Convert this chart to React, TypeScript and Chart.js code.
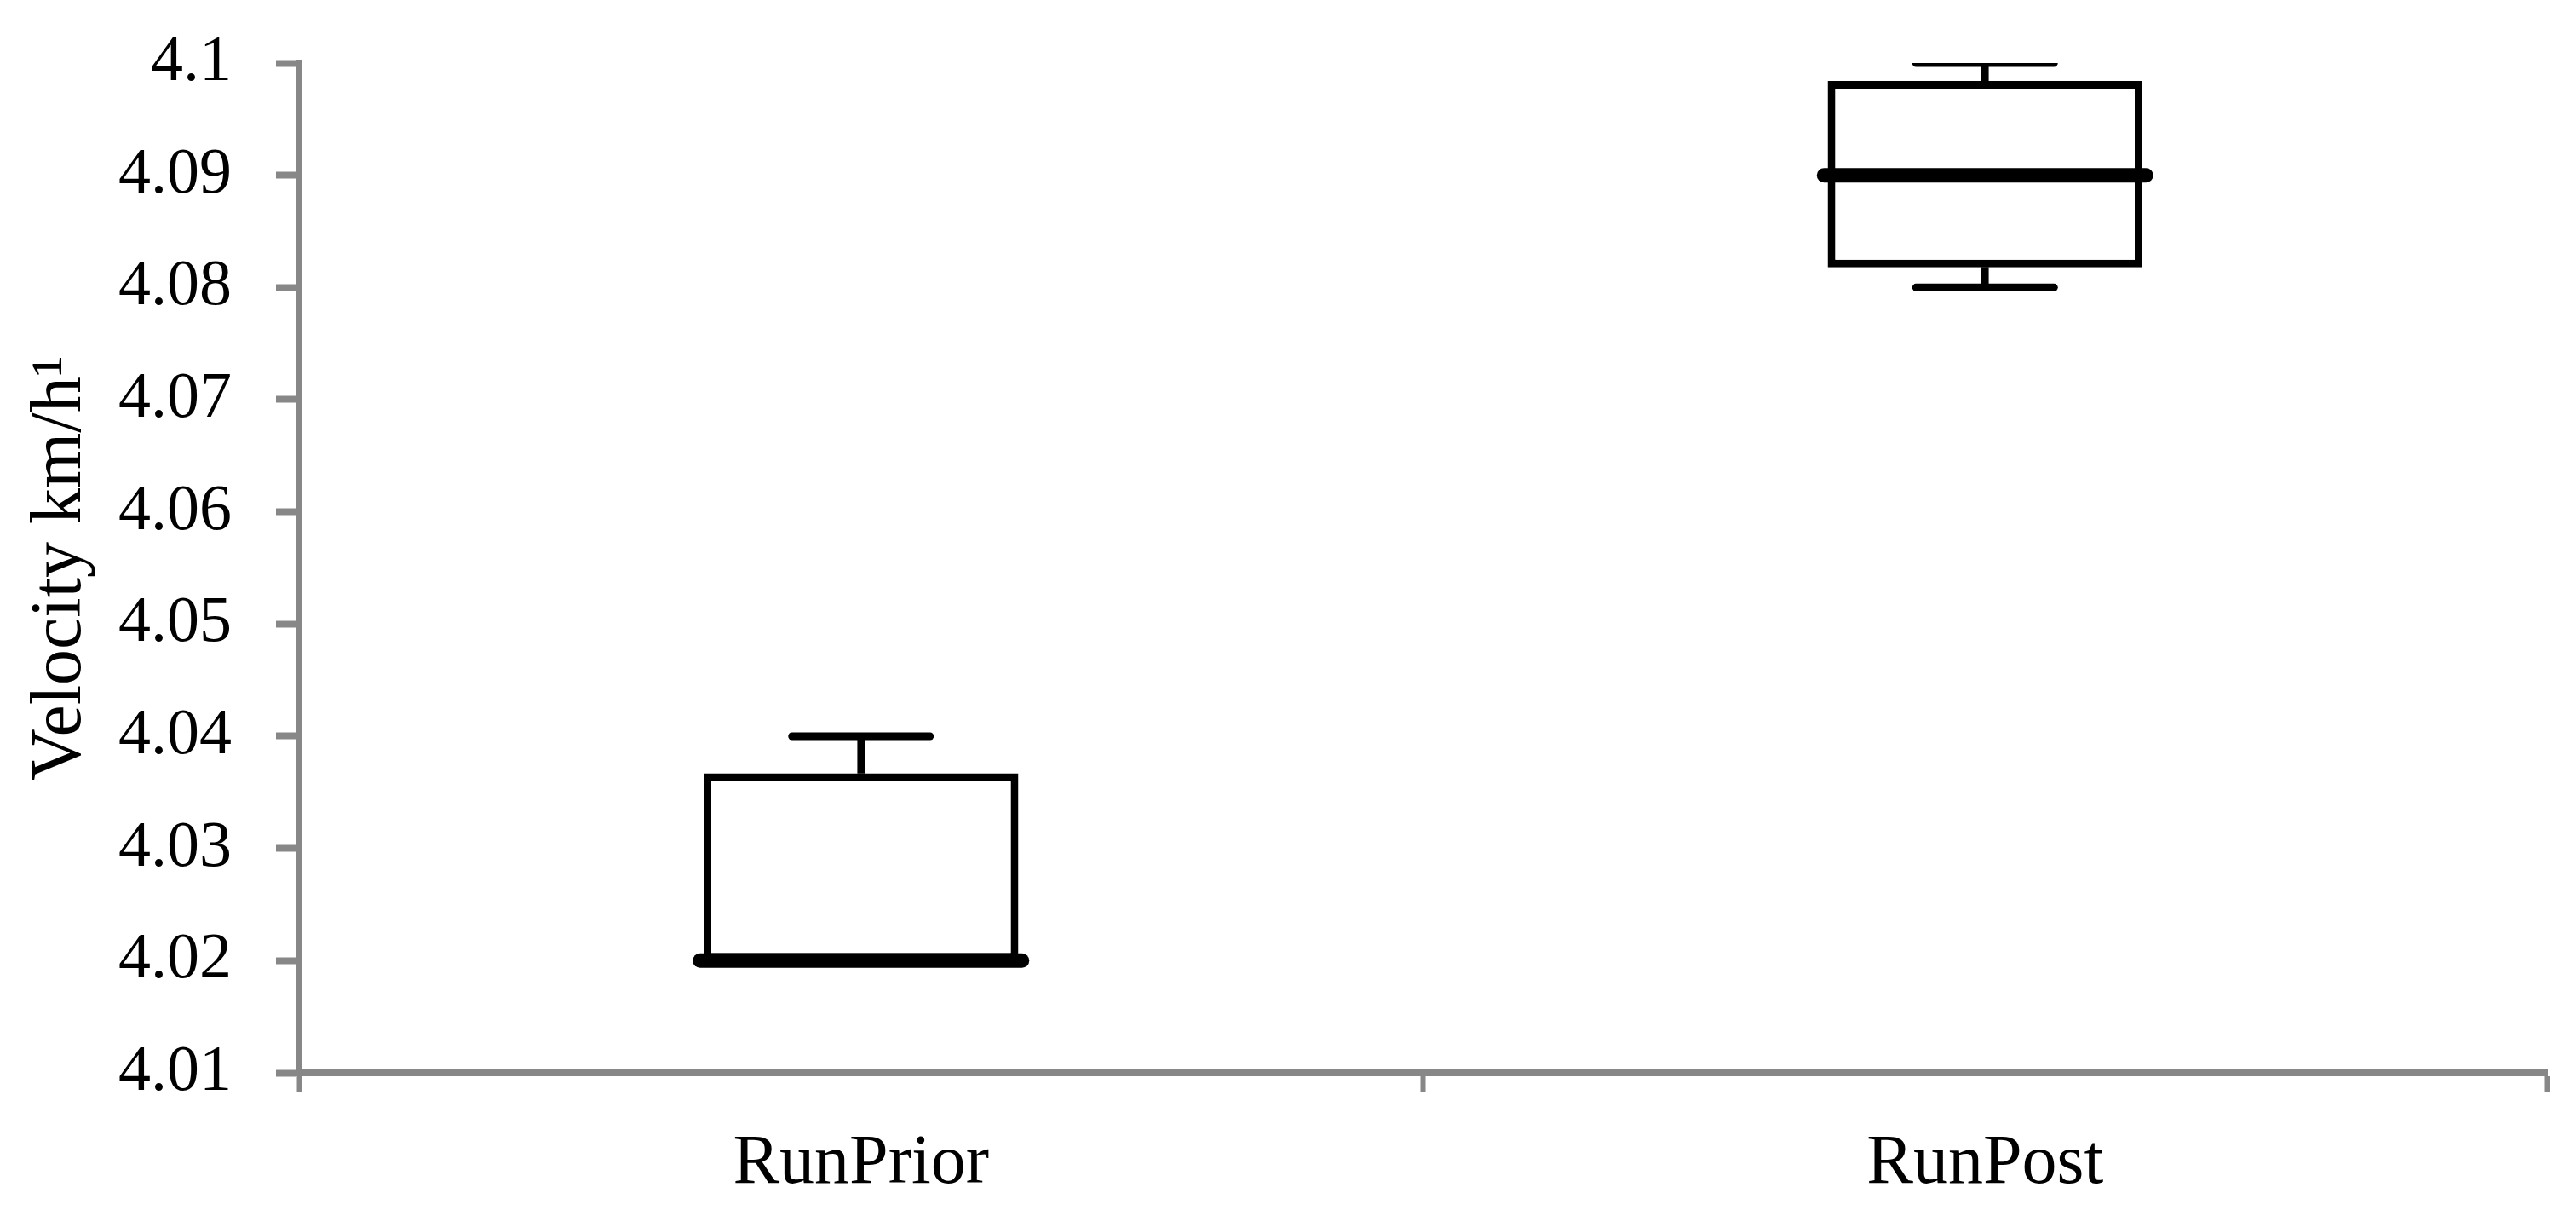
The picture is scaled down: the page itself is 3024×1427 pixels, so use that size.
import React, { useEffect, useRef } from "react";
import { Chart, registerables, LineController } from "chart.js";

Chart.register(...registerables);

// Line controller whose huge "line" point markers do not add layout padding
class FlatLineController extends LineController {
  static id = "flatLine";
  static defaults = { ...(LineController as any).defaults };
  static overrides = { ...(LineController as any).overrides };
  getMaxOverflow() {
    return 0;
  }
}
Chart.register(FlatLineController as any);

const categories = ["RunPrior", "RunPost"];
const whiskerMax = [4.04, 4.1];
const q3 = [4.0367, 4.0984];
const median = [4.02, 4.09];
const q1 = [4.02, 4.0818];
const whiskerMin = [4.02, 4.08];

const yTicks = [4.01, 4.02, 4.03, 4.04, 4.05, 4.06, 4.07, 4.08, 4.09, 4.1];
const yTickLabels = ["4.01", "4.02", "4.03", "4.04", "4.05", "4.06", "4.07", "4.08", "4.09", "4.1"];

const yTitle = "Velocity km/h\u00B9";

const AXIS = "#878787";
const FONT = "'Liberation Serif', 'Times New Roman', serif";

export default function App() {
  const ref = useRef<HTMLCanvasElement | null>(null);

  useEffect(() => {
    document.body.style.margin = "0";
    const canvas = ref.current;
    if (!canvas) return;

    const roundCaps = {
      id: "roundCaps",
      beforeDatasetsDraw(chart: any) {
        chart.ctx.lineCap = "round";
      },
      afterDatasetsDraw(chart: any) {
        chart.ctx.lineCap = "butt";
      },
    };

    const chart = new Chart(canvas, {
      type: "bar",
      data: {
        labels: categories,
        datasets: [
          {
            type: "flatLine",
            label: "median",
            data: categories.map((c, i) => ({ x: c, y: median[i] })),
            showLine: false,
            pointStyle: "line",
            pointRadius: 189,
            pointBorderWidth: 17,
            pointBorderColor: "#000",
            pointBackgroundColor: "#000",
            order: 0,
          } as any,
          {
            type: "flatLine",
            label: "capMax",
            data: categories.map((c, i) => ({ x: c, y: whiskerMax[i] })),
            showLine: false,
            pointStyle: "line",
            pointRadius: 81,
            pointBorderWidth: 9,
            pointBorderColor: "#000",
            order: 1,
          } as any,
          {
            type: "flatLine",
            label: "capMin",
            data: categories.map((c, i) => ({ x: c, y: whiskerMin[i] })),
            showLine: false,
            pointStyle: "line",
            pointRadius: 81,
            pointBorderWidth: 9,
            pointBorderColor: "#000",
            order: 1,
          } as any,
          {
            label: "box",
            data: categories.map((_, i) => [q1[i], q3[i]]),
            backgroundColor: "#ffffff",
            borderColor: "#000000",
            borderWidth: 9,
            borderSkipped: false,
            barPercentage: 0.28,
            categoryPercentage: 1,
            grouped: false,
            order: 2,
          } as any,
          {
            label: "upperStem",
            data: categories.map((_, i) => [q3[i], whiskerMax[i]]),
            backgroundColor: "#000000",
            borderWidth: 0,
            barThickness: 8,
            grouped: false,
            order: 3,
          } as any,
          {
            label: "lowerStem",
            data: categories.map((_, i) => [whiskerMin[i], q1[i]]),
            backgroundColor: "#000000",
            borderWidth: 0,
            barThickness: 8,
            grouped: false,
            order: 3,
          } as any,
        ],
      },
      options: {
        responsive: false,
        animation: false,
        devicePixelRatio: 1,
        events: [],
        layout: { padding: { left: 0, right: 34, top: 74, bottom: 0 } },
        plugins: {
          legend: { display: false },
          tooltip: { enabled: false },
        },
        scales: {
          x: {
            type: "category",
            offset: true,
            border: { display: true, color: AXIS, width: 8 },
            grid: {
              display: true,
              offset: true,
              drawOnChartArea: false,
              drawTicks: true,
              tickLength: 22,
              tickWidth: 6,
              tickColor: AXIS,
              color: AXIS,
            },
            ticks: {
              color: "#000",
              font: { family: FONT, size: 82 },
              padding: 36,
              maxRotation: 0,
            },
            afterFit: (scale: any) => {
              scale.height = 168;
            },
          },
          y: {
            type: "linear",
            min: 4.01,
            max: 4.1,
            border: { display: true, color: AXIS, width: 8 },
            grid: {
              display: true,
              drawOnChartArea: false,
              drawTicks: true,
              tickLength: 27,
              tickWidth: 8,
              tickColor: AXIS,
              color: AXIS,
            },
            afterBuildTicks: (scale: any) => {
              scale.ticks = yTicks.map((v) => ({ value: v }));
            },
            ticks: {
              color: "#000",
              font: { family: FONT, size: 76, lineHeight: 0.5 },
              padding: 52,
              callback: (value: any) => {
                const idx = yTicks.findIndex((v) => Math.abs(v - Number(value)) < 1e-9);
                return idx >= 0 ? yTickLabels[idx] : "";
              },
            },
            title: {
              display: true,
              text: yTitle,
              color: "#000",
              font: { family: FONT, size: 84 },
              padding: { top: 22, bottom: 0 },
            },
            afterFit: (scale: any) => {
              scale.width = 351;
            },
          },
        },
      } as any,
      plugins: [roundCaps],
    });

    return () => chart.destroy();
  }, []);

  return (
    <div style={{ width: 3024, height: 1427, background: "#fff" }}>
      <canvas ref={ref} width={3024} height={1427} style={{ display: "block" }} />
    </div>
  );
}
